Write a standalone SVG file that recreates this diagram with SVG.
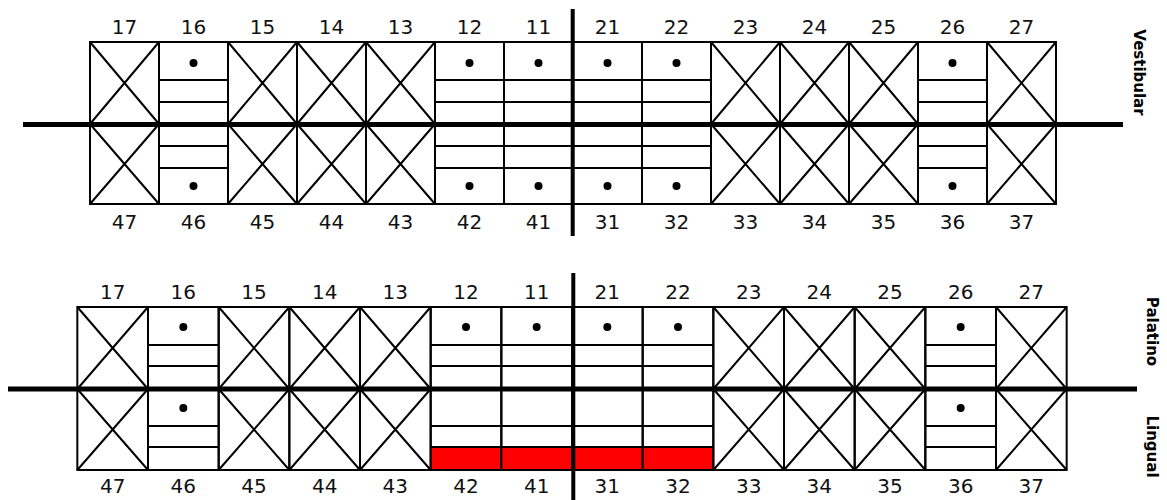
<svg xmlns="http://www.w3.org/2000/svg" xmlns:xlink="http://www.w3.org/1999/xlink" width="1167" height="500" viewBox="0 0 1167 500">
<style>
.c{fill:none;stroke:#000;stroke-width:2}
.d{fill:#000}
.r{fill:#ff0000}
.num{font-family:"DejaVu Sans","Liberation Sans",sans-serif;font-size:20px;text-anchor:middle;fill:#111}
.side{font-family:"DejaVu Sans","Liberation Sans",sans-serif;font-size:15px;font-weight:bold;text-anchor:middle;fill:#000}
.ax{stroke:#000;fill:none}
</style>
<defs>
<g id="tXu"><rect class="c" x="0" y="0" width="69" height="82"/><path class="c" d="M0 0L69 82M69 0L0 82"/></g>
<g id="tXl"><rect class="c" x="0" y="0" width="69" height="80"/><path class="c" d="M0 0L69 80M69 0L0 80"/></g>
<g id="tLu"><rect class="c" x="0" y="0" width="69" height="82"/><path class="c" d="M0 38H69M0 60H69"/><circle class="d" cx="34.5" cy="21" r="4"/></g>
<g id="tLl"><rect class="c" x="0" y="0" width="69" height="80"/><path class="c" d="M0 22H69M0 44H69"/><circle class="d" cx="34.5" cy="62" r="4"/></g>
<g id="bXu"><rect class="c" x="0" y="0" width="70.67" height="82"/><path class="c" d="M0 0L70.67 82M70.67 0L0 82"/></g>
<g id="bXl"><rect class="c" x="0" y="0" width="70.67" height="81"/><path class="c" d="M0 0L70.67 81M70.67 0L0 81"/></g>
<g id="bLu"><rect class="c" x="0" y="0" width="70.67" height="82"/><path class="c" d="M0 38H70.67M0 59H70.67"/><circle class="d" cx="35.33" cy="20" r="4"/></g>
<g id="bLl"><rect class="c" x="0" y="0" width="70.67" height="81"/><path class="c" d="M0 37H70.67M0 58H70.67"/><circle class="d" cx="35.33" cy="19" r="4"/></g>
<g id="bRl"><rect class="r" x="0" y="58" width="70.67" height="23"/><rect class="c" x="0" y="0" width="70.67" height="81"/><path class="c" d="M0 37H70.67M0 58H70.67"/></g>
</defs>

<!-- Top chart: upper row -->
<g id="top-17"><use xlink:href="#tXu" x="90" y="42"/><text class="num" x="124.5" y="34">17</text></g>
<g id="top-16"><use xlink:href="#tLu" x="159" y="42"/><text class="num" x="193.5" y="34">16</text></g>
<g id="top-15"><use xlink:href="#tXu" x="228" y="42"/><text class="num" x="262.5" y="34">15</text></g>
<g id="top-14"><use xlink:href="#tXu" x="297" y="42"/><text class="num" x="331.5" y="34">14</text></g>
<g id="top-13"><use xlink:href="#tXu" x="366" y="42"/><text class="num" x="400.5" y="34">13</text></g>
<g id="top-12"><use xlink:href="#tLu" x="435" y="42"/><text class="num" x="469.5" y="34">12</text></g>
<g id="top-11"><use xlink:href="#tLu" x="504" y="42"/><text class="num" x="538.5" y="34">11</text></g>
<g id="top-21"><use xlink:href="#tLu" x="573" y="42"/><text class="num" x="607.5" y="34">21</text></g>
<g id="top-22"><use xlink:href="#tLu" x="642" y="42"/><text class="num" x="676.5" y="34">22</text></g>
<g id="top-23"><use xlink:href="#tXu" x="711" y="42"/><text class="num" x="745.5" y="34">23</text></g>
<g id="top-24"><use xlink:href="#tXu" x="780" y="42"/><text class="num" x="814.5" y="34">24</text></g>
<g id="top-25"><use xlink:href="#tXu" x="849" y="42"/><text class="num" x="883.5" y="34">25</text></g>
<g id="top-26"><use xlink:href="#tLu" x="918" y="42"/><text class="num" x="952.5" y="34">26</text></g>
<g id="top-27"><use xlink:href="#tXu" x="987" y="42"/><text class="num" x="1021.5" y="34">27</text></g>
<!-- Top chart: lower row -->
<g id="top-47"><use xlink:href="#tXl" x="90" y="124"/><text class="num" x="124.5" y="228.5">47</text></g>
<g id="top-46"><use xlink:href="#tLl" x="159" y="124"/><text class="num" x="193.5" y="228.5">46</text></g>
<g id="top-45"><use xlink:href="#tXl" x="228" y="124"/><text class="num" x="262.5" y="228.5">45</text></g>
<g id="top-44"><use xlink:href="#tXl" x="297" y="124"/><text class="num" x="331.5" y="228.5">44</text></g>
<g id="top-43"><use xlink:href="#tXl" x="366" y="124"/><text class="num" x="400.5" y="228.5">43</text></g>
<g id="top-42"><use xlink:href="#tLl" x="435" y="124"/><text class="num" x="469.5" y="228.5">42</text></g>
<g id="top-41"><use xlink:href="#tLl" x="504" y="124"/><text class="num" x="538.5" y="228.5">41</text></g>
<g id="top-31"><use xlink:href="#tLl" x="573" y="124"/><text class="num" x="607.5" y="228.5">31</text></g>
<g id="top-32"><use xlink:href="#tLl" x="642" y="124"/><text class="num" x="676.5" y="228.5">32</text></g>
<g id="top-33"><use xlink:href="#tXl" x="711" y="124"/><text class="num" x="745.5" y="228.5">33</text></g>
<g id="top-34"><use xlink:href="#tXl" x="780" y="124"/><text class="num" x="814.5" y="228.5">34</text></g>
<g id="top-35"><use xlink:href="#tXl" x="849" y="124"/><text class="num" x="883.5" y="228.5">35</text></g>
<g id="top-36"><use xlink:href="#tLl" x="918" y="124"/><text class="num" x="952.5" y="228.5">36</text></g>
<g id="top-37"><use xlink:href="#tXl" x="987" y="124"/><text class="num" x="1021.5" y="228.5">37</text></g>

<!-- Bottom chart: upper row -->
<g id="bot-17"><use xlink:href="#bXu" x="77.33" y="307"/><text class="num" x="112.67" y="298.5">17</text></g>
<g id="bot-16"><use xlink:href="#bLu" x="148" y="307"/><text class="num" x="183.33" y="298.5">16</text></g>
<g id="bot-15"><use xlink:href="#bXu" x="218.67" y="307"/><text class="num" x="254" y="298.5">15</text></g>
<g id="bot-14"><use xlink:href="#bXu" x="289.33" y="307"/><text class="num" x="324.67" y="298.5">14</text></g>
<g id="bot-13"><use xlink:href="#bXu" x="360" y="307"/><text class="num" x="395.33" y="298.5">13</text></g>
<g id="bot-12"><use xlink:href="#bLu" x="430.67" y="307"/><text class="num" x="466" y="298.5">12</text></g>
<g id="bot-11"><use xlink:href="#bLu" x="501.33" y="307"/><text class="num" x="536.67" y="298.5">11</text></g>
<g id="bot-21"><use xlink:href="#bLu" x="572" y="307"/><text class="num" x="607.33" y="298.5">21</text></g>
<g id="bot-22"><use xlink:href="#bLu" x="642.67" y="307"/><text class="num" x="678" y="298.5">22</text></g>
<g id="bot-23"><use xlink:href="#bXu" x="713.33" y="307"/><text class="num" x="748.67" y="298.5">23</text></g>
<g id="bot-24"><use xlink:href="#bXu" x="784" y="307"/><text class="num" x="819.33" y="298.5">24</text></g>
<g id="bot-25"><use xlink:href="#bXu" x="854.67" y="307"/><text class="num" x="890" y="298.5">25</text></g>
<g id="bot-26"><use xlink:href="#bLu" x="925.33" y="307"/><text class="num" x="960.67" y="298.5">26</text></g>
<g id="bot-27"><use xlink:href="#bXu" x="996" y="307"/><text class="num" x="1031.33" y="298.5">27</text></g>
<!-- Bottom chart: lower row -->
<g id="bot-47"><use xlink:href="#bXl" x="77.33" y="389"/><text class="num" x="112.67" y="493">47</text></g>
<g id="bot-46"><use xlink:href="#bLl" x="148" y="389"/><text class="num" x="183.33" y="493">46</text></g>
<g id="bot-45"><use xlink:href="#bXl" x="218.67" y="389"/><text class="num" x="254" y="493">45</text></g>
<g id="bot-44"><use xlink:href="#bXl" x="289.33" y="389"/><text class="num" x="324.67" y="493">44</text></g>
<g id="bot-43"><use xlink:href="#bXl" x="360" y="389"/><text class="num" x="395.33" y="493">43</text></g>
<g id="bot-42"><use xlink:href="#bRl" x="430.67" y="389"/><text class="num" x="466" y="493">42</text></g>
<g id="bot-41"><use xlink:href="#bRl" x="501.33" y="389"/><text class="num" x="536.67" y="493">41</text></g>
<g id="bot-31"><use xlink:href="#bRl" x="572" y="389"/><text class="num" x="607.33" y="493">31</text></g>
<g id="bot-32"><use xlink:href="#bRl" x="642.67" y="389"/><text class="num" x="678" y="493">32</text></g>
<g id="bot-33"><use xlink:href="#bXl" x="713.33" y="389"/><text class="num" x="748.67" y="493">33</text></g>
<g id="bot-34"><use xlink:href="#bXl" x="784" y="389"/><text class="num" x="819.33" y="493">34</text></g>
<g id="bot-35"><use xlink:href="#bXl" x="854.67" y="389"/><text class="num" x="890" y="493">35</text></g>
<g id="bot-36"><use xlink:href="#bLl" x="925.33" y="389"/><text class="num" x="960.67" y="493">36</text></g>
<g id="bot-37"><use xlink:href="#bXl" x="996" y="389"/><text class="num" x="1031.33" y="493">37</text></g>

<!-- Axes -->
<g id="axes">
<path class="ax" stroke-width="5" d="M23 124.5H1123"/>
<path class="ax" stroke-width="4" d="M572.7 9V236"/>
<path class="ax" stroke-width="5" d="M8 389H1137"/>
<path class="ax" stroke-width="4" d="M573.3 273V500"/>
</g>

<!-- Side labels -->
<g id="labels">
<text class="side" transform="translate(1133.5,72.5) rotate(90)">Vestibular</text>
<text class="side" transform="translate(1146.5,331.5) rotate(90)">Palatino</text>
<text class="side" transform="translate(1146.5,446.5) rotate(90)">Lingual</text>
</g>
</svg>
